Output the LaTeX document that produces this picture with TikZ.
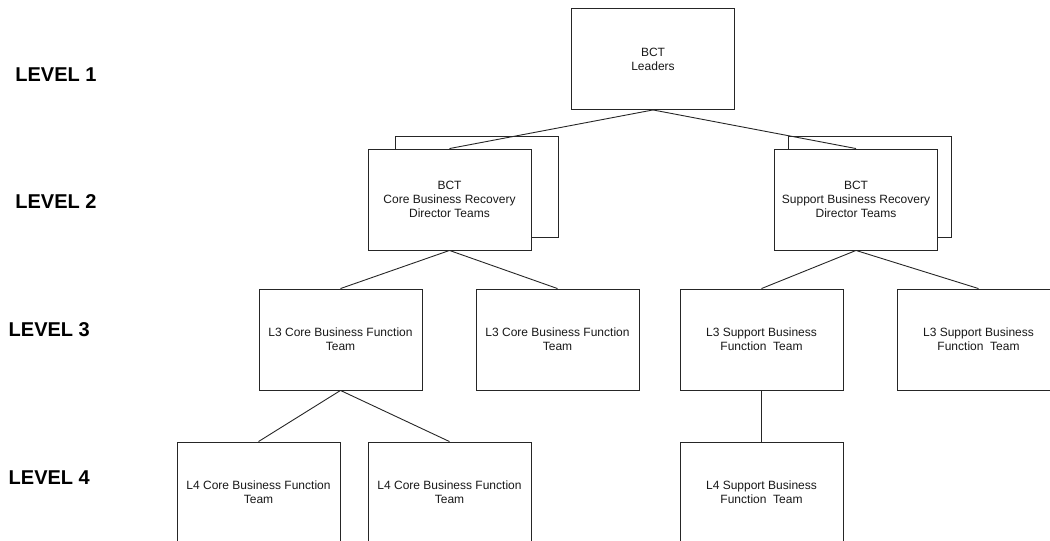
\documentclass[tikz,border=0pt]{standalone}
\usepackage{fontspec}
\setmainfont{Liberation Sans}
\begin{document}
\begin{tikzpicture}[x=1pt,y=-1pt,
  box/.style={draw=black!85,line width=0.9pt,fill=white,rectangle,inner sep=0pt,
    minimum width=163pt,minimum height=101pt,align=center,
    font=\fontsize{12}{14}\selectfont,text=black!90},
  conn/.style={draw=black!85,line width=0.9pt},
  lvl/.style={anchor=base west,inner sep=0pt,font=\fontsize{20}{22}\selectfont\bfseries}]
\useasboundingbox (0,0) rectangle (1050,541);
\clip (0,0) rectangle (1050,541);
% level labels
\node[lvl] (lv1) at (15.2,81.7) {LEVEL 1};
\node[lvl] (lv2) at (15.2,208) {LEVEL 2};
\node[lvl] (lv3) at (8.5,336.7) {LEVEL 3};
\node[lvl] (lv4) at (8.5,484) {LEVEL 4};
% level 1
\node[box] (top) at (653,59) {BCT\\Leaders};
% level 2 (stacked)
\node[box] (l2aback) at (476.5,186.5) {};
\node[box] (l2a) at (449.5,199.5) {BCT\\Core Business Recovery\\Director Teams};
\node[box] (l2bback) at (870,186.5) {};
\node[box] (l2b) at (856,199.5) {BCT\\Support Business Recovery\\Director Teams};
% level 3
\node[box] (l3a) at (340.5,339.5) {L3 Core Business Function\\Team};
\node[box] (l3b) at (557.5,339.5) {L3 Core Business Function\\Team};
\node[box] (l3c) at (761.5,339.5) {L3 Support Business\\Function\ \ Team};
\node[box] (l3d) at (978.5,339.5) {L3 Support Business\\Function\ \ Team};
% level 4
\node[box] (l4a) at (258.5,492.5) {L4 Core Business Function\\Team};
\node[box] (l4b) at (449.5,492.5) {L4 Core Business Function\\Team};
\node[box] (l4c) at (761.5,492.5) {L4 Support Business\\Function\ \ Team};
% connectors
\draw[conn] (top.south) -- (l2a.north);
\draw[conn] (top.south) -- (l2b.north);
\draw[conn] (l2a.south) -- (l3a.north);
\draw[conn] (l2a.south) -- (l3b.north);
\draw[conn] (l2b.south) -- (l3c.north);
\draw[conn] (l2b.south) -- (l3d.north);
\draw[conn] (l3a.south) -- (l4a.north);
\draw[conn] (l3a.south) -- (l4b.north);
\draw[conn] (l3c.south) -- (l4c.north);
\end{tikzpicture}
\end{document}
